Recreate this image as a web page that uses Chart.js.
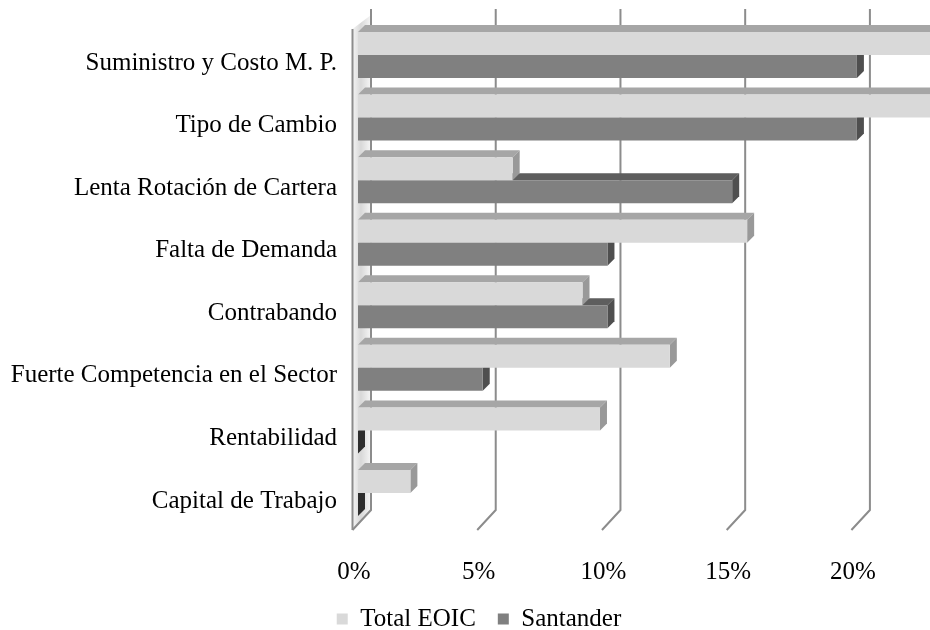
<!DOCTYPE html>
<html><head><meta charset="utf-8">
<script src="https://cdn.jsdelivr.net/npm/chart.js@4"></script>
<style>html,body{margin:0;padding:0;background:#fff}</style>
</head><body>
<canvas id="c" width="930" height="630"></canvas>
<script>
const categories = ["Suministro y Costo M. P.", "Tipo de Cambio", "Lenta Rotación de Cartera", "Falta de Demanda", "Contrabando", "Fuerte Competencia en el Sector", "Rentabilidad", "Capital de Trabajo"];
const totalEOIC = [25, 25, 6.2, 15.6, 9.0, 12.5, 9.7, 2.1];
const santander = [20, 20, 15, 10, 10, 5, 0, 0];
const xTicks = [0, 5, 10, 15, 20];
const seriesNames = ["Total EOIC", "Santander"];

const FONT = "'Liberation Serif', 'Times New Roman', serif";
const FS = 25;
const D = 7;          // bar depth
const AREA_TOP = 23.7, AREA_BOTTOM = 524.3, PAD_BOTTOM = -20;
const LEGEND_TOP = 584.5;
const faceColors = [
  {top: '#a6a6a6', side: '#999999', zero: '#8c8c8c'},
  {top: '#5e5e5e', side: '#4f4f4f', zero: '#2e2e2e'}
];

const threeD = {
  id: 'threeD',
  afterLayout(chart) {
    const lg = chart.legend;
    if (lg) {
      const dy = LEGEND_TOP - lg.top;
      lg.top += dy; lg.bottom += dy; lg.left += 14; lg.right += 14;
    }
  },
  beforeDatasetsDraw(chart) {
    const ctx = chart.ctx, xs = chart.scales.x, a = chart.chartArea;
    const backTop = a.top - 14.7, backBot = a.bottom - 14.3, frontBot = a.bottom + 5.7;
    const wallTop = a.top + 5.3;
    const fOff = -5.5, bOff = 13;
    ctx.save();
    // left wall
    const x0 = xs.getPixelForValue(0);
    const g = ctx.createLinearGradient(x0 + fOff, 0, x0 + bOff, 0);
    g.addColorStop(0, '#f4f4f4'); g.addColorStop(0.45, '#d8d8d8'); g.addColorStop(1, '#f6f6f6');
    ctx.fillStyle = g;
    ctx.beginPath();
    ctx.moveTo(x0 + fOff, wallTop);
    ctx.lineTo(x0 + bOff, backTop + 6);
    ctx.lineTo(x0 + bOff, backBot);
    ctx.lineTo(x0 + fOff, frontBot);
    ctx.closePath(); ctx.fill();
    ctx.strokeStyle = '#8c8c8c'; ctx.lineWidth = 2;
    ctx.beginPath();
    ctx.moveTo(x0 + fOff, wallTop); ctx.lineTo(x0 + fOff, frontBot);
    ctx.stroke();
    // gridlines (back + floor diagonal)
    xTicks.forEach(v => {
      const p = xs.getPixelForValue(v);
      ctx.beginPath();
      ctx.moveTo(p + bOff, backTop);
      ctx.lineTo(p + bOff, backBot);
      ctx.lineTo(p + fOff, frontBot);
      ctx.stroke();
    });
    // 3D faces: draw lower series first
    [1, 0].forEach(di => {
      const meta = chart.getDatasetMeta(di);
      const col = faceColors[di];
      meta.data.forEach((el, i) => {
        const p = el.getProps(['x', 'y', 'base', 'height'], true);
        const top = p.y - p.height / 2, bot = p.y + p.height / 2;
        const x1 = p.x, xb = p.base;
        ctx.fillStyle = col.top;
        ctx.beginPath();
        ctx.moveTo(xb, top); ctx.lineTo(xb + D, top - D);
        ctx.lineTo(x1 + D, top - D); ctx.lineTo(x1, top);
        ctx.closePath(); ctx.fill();
        ctx.fillStyle = chart.data.datasets[di].data[i] === 0 ? col.zero : col.side;
        ctx.beginPath();
        ctx.moveTo(x1, top); ctx.lineTo(x1 + D, top - D);
        ctx.lineTo(x1 + D, bot - D); ctx.lineTo(x1, bot);
        ctx.closePath(); ctx.fill();
      });
    });
    ctx.restore();
  }
};

new Chart(document.getElementById('c'), {
  type: 'bar',
  data: {
    labels: categories,
    datasets: [
      {label: seriesNames[0], data: totalEOIC, backgroundColor: '#d9d9d9', borderWidth: 0, categoryPercentage: 0.735, barPercentage: 1},
      {label: seriesNames[1], data: santander, backgroundColor: '#808080', borderWidth: 0, categoryPercentage: 0.735, barPercentage: 1}
    ]
  },
  options: {
    indexAxis: 'y',
    responsive: false,
    animation: false,
    devicePixelRatio: 1,
    layout: {padding: {top: AREA_TOP, left: 0, right: 0, bottom: PAD_BOTTOM}},
    scales: {
      x: {
        min: 0, max: 22.93,
        grid: {display: false, drawTicks: false},
        border: {display: false},
        ticks: {stepSize: 5, includeBounds: false, callback: v => v + '%', labelOffset: -4, padding: 32.7, color: '#000', font: {family: FONT, size: FS}},
        afterFit(s) {
          const L = s.chart.legend ? s.chart.legend.height : 0;
          s.height = 630 - PAD_BOTTOM - AREA_BOTTOM - L;
          s.paddingLeft = 0; s.paddingRight = 0;
        }
      },
      y: {
        grid: {display: false, drawTicks: false},
        border: {display: false},
        ticks: {padding: 21, labelOffset: 8, color: '#000', font: {family: FONT, size: FS}},
        afterFit(s) { s.width = 358; s.paddingTop = 0; s.paddingBottom = 0; }
      }
    },
    plugins: {
      legend: {position: 'bottom', labels: {boxWidth: 11, boxHeight: 11, color: '#000', padding: 22, font: {family: FONT, size: FS}}},
      tooltip: {enabled: false}
    }
  },
  plugins: [threeD]
});
</script>
</body></html>
